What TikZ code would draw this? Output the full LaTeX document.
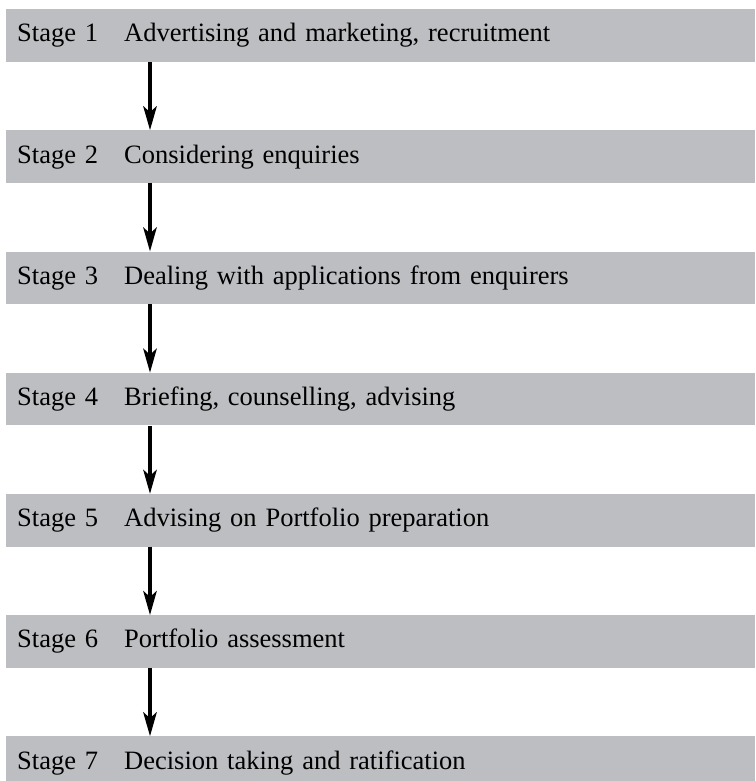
\documentclass[tikz,border=0pt]{standalone}
\usepackage{fontspec}
\setmainfont{Liberation Serif}
\usepackage{xcolor}
\usepackage{tikz}
\usetikzlibrary{positioning,arrows.meta}

\definecolor{bargray}{RGB}{189,190,193}

\newcommand{\stagetext}[2]{\makebox[107pt][l]{Stage #1}#2}

\begin{document}
\begin{tikzpicture}[x=1pt,y=1pt,
		node distance=68.3pt,
		bar/.style={fill=bargray,draw=none,minimum width=749pt,minimum height=52.5pt,
			inner xsep=11pt,text width=727pt,align=left,text height=19pt,text depth=6.2pt,
			font=\fontsize{26.5}{30}\selectfont},
		flow/.style={line width=3.2pt,-{Stealth[length=24pt,width=13.5pt,inset=6pt]}}]
			\useasboundingbox (0,0) rectangle (755,-781);
			\node[bar,anchor=north west] (s1) at (6,-9) {\stagetext{1}{Advertising and marketing, recruitment}};
			\node[bar,below=of s1] (s2) {\stagetext{2}{Considering enquiries}};
			\node[bar,below=of s2] (s3) {\stagetext{3}{Dealing with applications from enquirers}};
			\node[bar,below=of s3] (s4) {\stagetext{4}{Briefing, counselling, advising}};
			\node[bar,below=of s4] (s5) {\stagetext{5}{Advising on Portfolio preparation}};
			\node[bar,below=of s5] (s6) {\stagetext{6}{Portfolio assessment}};
			\node[bar,below=of s6] (s7) {\stagetext{7}{Decision taking and ratification}};
			\draw[flow] ([xshift=144pt]s1.south west) -- ([xshift=144pt]s2.north west);
			\draw[flow] ([xshift=144pt]s2.south west) -- ([xshift=144pt]s3.north west);
			\draw[flow] ([xshift=144pt]s3.south west) -- ([xshift=144pt]s4.north west);
			\draw[flow] ([xshift=144pt]s4.south west) -- ([xshift=144pt]s5.north west);
			\draw[flow] ([xshift=144pt]s5.south west) -- ([xshift=144pt]s6.north west);
			\draw[flow] ([xshift=144pt]s6.south west) -- ([xshift=144pt]s7.north west);
		\end{tikzpicture}
\end{document}
